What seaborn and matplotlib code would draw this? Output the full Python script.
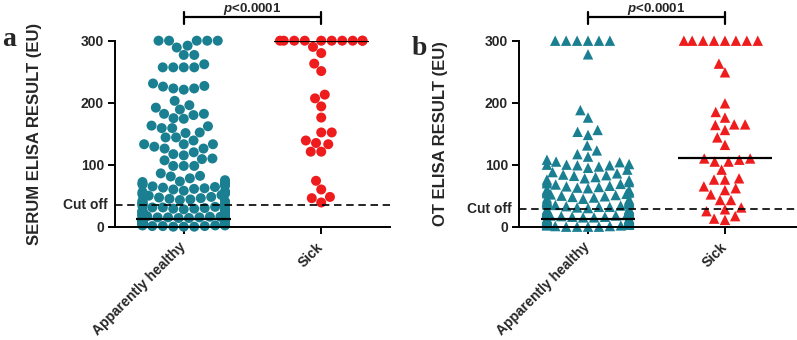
import numpy as np
import pandas as pd
import matplotlib
matplotlib.use('Agg')
import matplotlib.pyplot as plt
import matplotlib.transforms as mtransforms
from matplotlib.collections import PathCollection
import seaborn as sns
from seaborn.categorical import Beeswarm
import warnings
warnings.filterwarnings('ignore')

# ----------------------------------------------------------------------------
# Data (EU)
# ----------------------------------------------------------------------------
GROUPS = ['Apparently healthy', 'Sick']

serum_healthy = [
    300, 300, 300, 300, 300, 292, 289, 277, 277, 262, 257, 257, 257, 257,
    231, 226, 223, 221, 223, 227, 203, 196, 192, 189, 182, 180, 182, 174, 175,
    162, 163, 159, 159, 151, 152, 144, 144, 139, 133, 133, 133, 129, 126, 126,
    117, 115, 120, 110, 107, 109, 98, 98, 98, 86, 81, 82,
    78, 75, 73, 72, 71, 70, 69, 68, 66, 65, 64, 63, 62, 61, 60, 58, 57, 56,
    55, 54, 53, 52, 51, 50, 48, 47, 46, 45, 44, 43, 42, 41, 40,
    39, 38, 38, 37, 36, 36, 35, 34, 34, 33, 32, 31, 31, 30, 29, 29, 28, 27,
    27, 26, 25, 25, 24, 24, 23, 22, 22, 21, 21, 20, 20, 19, 19, 18, 18, 17,
    17, 16, 16, 15, 15, 15, 14, 14, 14, 13, 13, 13, 12, 12, 12, 11, 11, 11,
    10, 10, 10, 9, 9, 9, 8, 8, 8, 7, 7, 7, 6, 6, 6, 5, 5, 5, 4, 4, 4, 3, 3,
    3, 2, 2, 2, 1, 1, 1, 0, 0, 0,
]
serum_sick = [
    300, 300, 300, 300, 300, 300, 300, 300, 300, 300,
    290, 280, 263, 251, 213, 207, 194, 176, 152, 152, 139, 135, 133,
    121, 121, 74, 60, 48, 46, 39,
]
ot_healthy = [
    300, 300, 300, 300, 300, 300, 278, 188, 176, 156, 153, 148, 131, 123,
    117, 113, 108, 105, 104, 101, 100, 100, 99, 99, 97, 95, 92, 88,
    86, 84, 83, 82, 80, 78, 76, 75, 73, 72, 70, 69, 68, 66, 65, 64, 63, 62,
    60, 59, 58, 57, 56, 55, 54, 53, 52, 51, 50, 49, 48, 47, 46, 45, 44, 43,
    42, 41, 40, 40,
    39, 38, 37, 36, 36, 35, 34, 33, 32, 32, 31, 30, 29, 28, 28, 27, 26, 25,
    25, 24, 23, 22, 22, 21, 20, 20, 19, 18, 18, 17, 16, 16, 15, 15, 14, 14,
    13, 13, 12, 12, 11, 11, 10, 10, 9, 9, 8, 8, 7, 7, 6, 6, 5, 5, 4, 4, 3,
    3, 2, 2, 1, 1, 0, 0, 0, 0,
]
ot_sick = [
    300, 300, 300, 300, 300, 300, 300, 300,
    263, 249, 199, 185, 176, 165, 165, 164, 156, 144, 132,
    110, 108, 105, 105, 110, 92, 76, 76, 78, 65, 59, 62, 52, 43, 43,
    28, 31, 25, 17, 13, 11,
]

serum_medians = [13, 300]
ot_medians = [13, 111]
serum_cutoff = 35
ot_cutoff = 29

TEAL = '#1a7f91'
RED = '#ee1c1c'

sns.set_style('ticks')
plt.rcParams['font.family'] = ['Liberation Sans', 'DejaVu Sans']
plt.rcParams['mathtext.fontset'] = 'custom'
plt.rcParams['mathtext.it'] = 'Liberation Sans:italic:bold'
plt.rcParams['mathtext.rm'] = 'Liberation Sans:bold'

# narrower swarm than seaborn's fixed 0.8
SWARM = Beeswarm(orient='x', width=0.6, warn_thresh=1.0)


def make_df(healthy, sick):
    return pd.DataFrame({
        'group': [GROUPS[0]] * len(healthy) + [GROUPS[1]] * len(sick),
        'value': list(healthy) + list(sick),
    })


def narrow_swarm(coll):
    # category centre (offsets may already be swarmed)
    center = float(np.round(np.asarray(coll.get_offsets())[:, 0].mean()))

    def draw(points, renderer, *, center=center):
        SWARM(points, center)
        PathCollection.draw(points, renderer)

    coll.draw = draw.__get__(coll)


def draw_panel(ax, df, marker, msize, medians, cutoff, ylabel, xlim, label_x):
    sns.swarmplot(data=df, x='group', y='value', hue='group', order=GROUPS,
                  palette=[TEAL, RED], marker=marker, size=msize,
                  linewidth=0, legend=False, ax=ax)
    for coll in ax.collections:
        coll.set_clip_on(False)
        coll.set_zorder(2)
        narrow_swarm(coll)

    # median lines
    for i, m in enumerate(medians):
        ax.hlines(m, i - 0.345, i + 0.345, color='black', lw=1.6, zorder=4)

    # cut-off line and its label
    ax.axhline(cutoff, color='black', lw=1.2, ls=(0, (4.5, 2.8)), zorder=3)
    trans = mtransforms.blended_transform_factory(ax.transAxes, ax.transData)
    ax.text(-0.028, cutoff, 'Cut off', transform=trans, ha='right', va='center',
            fontsize=10, fontweight='bold')

    # significance bracket
    ax.plot([0, 0, 1, 1], [327, 338, 338, 327], color='black', lw=1.6,
            clip_on=False)
    ax.plot([0, 0], [338, 346], color='black', lw=1.6, clip_on=False)
    ax.plot([1, 1], [338, 346], color='black', lw=1.6, clip_on=False)
    ax.text(0.5, 347, r'$p$<0.0001', ha='center', va='baseline',
            fontsize=9.5, fontweight='bold', clip_on=False)

    ax.set_ylim(0, 300)
    ax.set_xlim(*xlim)
    ax.set_yticks([0, 100, 200, 300])
    ax.set_yticklabels(['0', '100', '200', '300'], fontsize=10,
                       fontweight='bold')
    ax.set_xticks([0, 1])
    ax.set_xticklabels(GROUPS, rotation=45, ha='right', va='center',
                       rotation_mode='anchor', fontsize=10, fontweight='bold')
    ax.tick_params(axis='both', length=5, width=1.4, color='black', pad=3)
    ax.tick_params(axis='x', pad=8)
    ax.set_xlabel('')
    ax.set_ylabel(ylabel, fontsize=12, fontweight='bold')
    ax.yaxis.set_label_coords(label_x, 0.5)
    for side in ['top', 'right']:
        ax.spines[side].set_visible(False)
    for side in ['left', 'bottom']:
        ax.spines[side].set_linewidth(1.4)
        ax.spines[side].set_color('black')


fig = plt.figure(figsize=(7.97, 3.4), dpi=100)
ax_a = fig.add_axes([0.1443, 0.3333, 0.345, 0.547])
ax_b = fig.add_axes([0.6512, 0.3333, 0.3488, 0.547])

draw_panel(ax_a, make_df(serum_healthy, serum_sick), 'o', 7.2, serum_medians,
           serum_cutoff, 'SERUM ELISA RESULT (EU)', (-0.5, 1.5), -0.265)
draw_panel(ax_b, make_df(ot_healthy, ot_sick), '^', 7.5, ot_medians,
           ot_cutoff, 'OT ELISA RESULT (EU)', (-0.504, 1.526), -0.255)

fig.text(0.003, 1 - 46 / 340, 'a', family='Liberation Serif', fontsize=20,
         fontweight='bold', va='baseline', ha='left')
fig.text(0.516, 1 - 55 / 340, 'b', family='Liberation Serif', fontsize=20,
         fontweight='bold', va='baseline', ha='left')

fig.savefig('out.png', dpi=100)
